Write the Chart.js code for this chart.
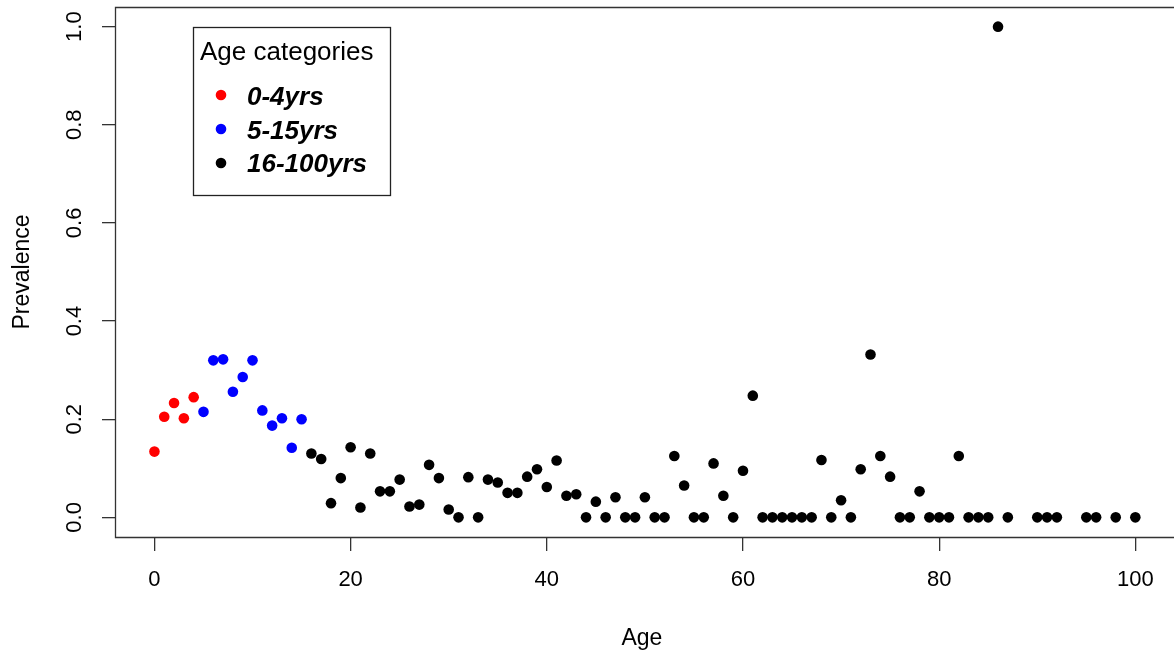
<!DOCTYPE html>
<html>
<head>
<meta charset="utf-8">
<script src="https://cdn.jsdelivr.net/npm/chart.js@4"></script>
<style>
  html, body { margin: 0; padding: 0; background: #fff; }
  canvas { display: block; }
</style>
</head>
<body>
<canvas id="chart" width="1174" height="656"></canvas>
<script>
// values
const ages = [
  0, 1, 2, 3, 4, 5, 6, 7, 8, 9, 10, 11, 12, 13, 14, 15, 16, 17, 18, 19,
  20, 21, 22, 23, 24, 25, 26, 27, 28, 29, 30, 31, 32, 33, 34, 35, 36, 37, 38, 39,
  40, 41, 42, 43, 44, 45, 46, 47, 48, 49, 50, 51, 52, 53, 54, 55, 56, 57, 58, 59,
  60, 61, 62, 63, 64, 65, 66, 67, 68, 69, 70, 71, 72, 73, 74, 75, 76, 77, 78, 79,
  80, 81, 82, 83, 84, 85, 86, 87, 90, 91, 92, 95, 96, 98, 100
];
const prevalence = [
  0.134, 0.205, 0.233, 0.202, 0.245, 0.215, 0.320, 0.322, 0.256, 0.286,
  0.320, 0.218, 0.187, 0.202, 0.142, 0.200, 0.130, 0.119, 0.029, 0.080,
  0.143, 0.020, 0.130, 0.053, 0.053, 0.077, 0.022, 0.026, 0.107, 0.080,
  0.016, 0, 0.082, 0, 0.077, 0.071, 0.050, 0.050, 0.083, 0.098,
  0.062, 0.116, 0.044, 0.047, 0, 0.032, 0, 0.041, 0, 0,
  0.041, 0, 0, 0.125, 0.065, 0, 0, 0.110, 0.044, 0,
  0.095, 0.248, 0, 0, 0, 0, 0, 0, 0.117, 0,
  0.035, 0, 0.098, 0.332, 0.125, 0.083, 0, 0, 0.053, 0,
  0, 0, 0.125, 0, 0, 0, 1.0, 0, 0, 0, 0, 0, 0, 0, 0
];
const categories = ["0-4yrs", "5-15yrs", "16-100yrs"];
const categoryMaxAge = [4, 15, 100];
const categoryColors = ["#ff0000", "#0000ff", "#000000"];
const xTicks = [0, 20, 40, 60, 80, 100];
const yTicks = [0, 0.2, 0.4, 0.6, 0.8, 1.0];

const datasets = categories.map((label, i) => {
  const lo = i === 0 ? -1 : categoryMaxAge[i - 1];
  const pts = [];
  ages.forEach((a, j) => {
    if (a > lo && a <= categoryMaxAge[i]) pts.push({ x: a, y: prevalence[j] });
  });
  return {
    label: label,
    data: pts,
    backgroundColor: categoryColors[i],
    borderWidth: 0,
    pointRadius: 5.3,
    pointHoverRadius: 5.3,
  };
});

const FONT = "'Liberation Sans', Arial, sans-serif";

// box around the plot; in the original the right side runs off the image
const boxPlugin = {
  id: "box",
  afterDraw(chart) {
    const { ctx, chartArea: a, width } = chart;
    ctx.save();
    ctx.strokeStyle = "#333";
    ctx.lineWidth = 1.3;
    ctx.beginPath();
    ctx.moveTo(width, a.top + 0.5);
    ctx.lineTo(a.left + 0.5, a.top + 0.5);
    ctx.lineTo(a.left + 0.5, a.bottom + 0.5);
    ctx.lineTo(width, a.bottom + 0.5);
    ctx.stroke();
    ctx.restore();
  },
};

// legend box drawn inside the plot, top left
const legendPlugin = {
  id: "rlegend",
  afterDraw(chart) {
    const ctx = chart.ctx;
    ctx.save();
    ctx.fillStyle = "#fff";
    ctx.fillRect(193.5, 27.5, 197, 168);
    ctx.strokeStyle = "#222";
    ctx.lineWidth = 1.3;
    ctx.strokeRect(193.5, 27.5, 197, 168);
    ctx.fillStyle = "#000";
    ctx.textBaseline = "alphabetic";
    ctx.font = "26px " + FONT;
    ctx.fillText("Age categories", 200, 60);
    chart.data.datasets.forEach((ds, i) => {
      ctx.beginPath();
      ctx.fillStyle = ds.backgroundColor;
      ctx.arc(221, 95 + i * 34, 5.3, 0, Math.PI * 2);
      ctx.fill();
      ctx.fillStyle = "#000";
      ctx.font = "italic bold 26px " + FONT;
      ctx.fillText(ds.label, 247, 105 + i * 33.5);
    });
    ctx.restore();
  },
};

new Chart(document.getElementById("chart"), {
  type: "scatter",
  data: { datasets: datasets },
  plugins: [boxPlugin, legendPlugin],
  options: {
    responsive: false,
    animation: false,
    devicePixelRatio: 1,
    layout: { padding: { top: 7, right: 0, bottom: 0, left: 0 } },
    plugins: {
      legend: { display: false },
      tooltip: { enabled: false },
    },
    scales: {
      x: {
        type: "linear",
        min: -4.02,
        max: 103.4,
        afterBuildTicks: (scale) => {
          scale.ticks = xTicks.map((v) => ({ value: v }));
        },
        afterFit: (scale) => {
          scale.height = 119;
          scale.paddingLeft = 0;
          scale.paddingRight = 0;
        },
        grid: {
          drawOnChartArea: false,
          drawTicks: true,
          tickLength: 14,
          color: "#333",
          lineWidth: 1.3,
        },
        border: { display: false },
        ticks: {
          color: "#000",
          font: { family: FONT, size: 22 },
          padding: 16,
          maxRotation: 0,
          callback: (v) => String(v),
        },
        title: {
          display: true,
          text: "Age",
          color: "#000",
          font: { family: FONT, size: 23 },
          padding: { top: 0, bottom: 4 },
        },
      },
      y: {
        type: "linear",
        min: -0.04,
        max: 1.04,
        afterBuildTicks: (scale) => {
          scale.ticks = yTicks.map((v) => ({ value: v }));
        },
        afterFit: (scale) => {
          scale.width = 115;
          scale.paddingTop = 0;
          scale.paddingBottom = 0;
        },
        grid: {
          drawOnChartArea: false,
          drawTicks: true,
          tickLength: 13,
          color: "#333",
          lineWidth: 1.3,
        },
        border: { display: false },
        ticks: {
          color: "#000",
          font: { family: FONT, size: 22 },
          padding: 12,
          minRotation: 90,
          maxRotation: 90,
          crossAlign: "center",
          callback: (v) => v.toFixed(1),
        },
        title: {
          display: true,
          text: "Prevalence",
          color: "#000",
          font: { family: FONT, size: 23 },
          padding: { top: 9, bottom: 0 },
        },
      },
    },
  },
});
</script>
</body>
</html>
